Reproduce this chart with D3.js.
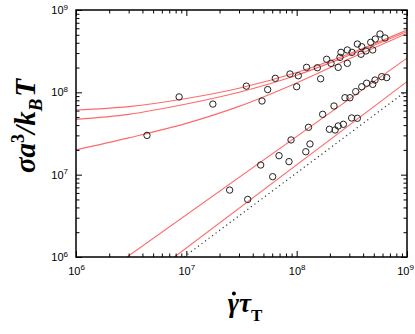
<!DOCTYPE html>
<html>
<head>
<meta charset="utf-8">
<script src="https://cdn.jsdelivr.net/npm/d3@7"></script>
<style>
  html, body { margin: 0; padding: 0; background: #fff; }
  svg { display: block; }
</style>
</head>
<body>
<svg id="chart" width="415" height="334"></svg>
<script>
// ---------- data ----------
const seriesAX = [8.6e6, 3.5e7, 6.4e7, 8.7e7, 1.23e8, 1.87e8, 2.47e8, 2.52e8, 2.88e8, 3.55e8, 4.69e8, 5.16e8, 5.69e8];
const seriesAY = [8.8e7, 1.19e8, 1.48e8, 1.67e8, 2.01e8, 2.52e8, 2.66e8, 3.06e8, 3.27e8, 3.86e8, 4.05e8, 4.44e8, 5.11e8];

const seriesBX = [1.74e7, 5.46e7, 1.035e8, 1.54e8, 2.05e8, 2.38e8, 3.17e8, 3.89e8, 4.25e8, 4.89e8, 6.32e8];
const seriesBY = [7.2e7, 1.08e8, 1.59e8, 1.99e8, 2.25e8, 2.01e8, 3.06e8, 3.58e8, 3.18e8, 3.27e8, 4.57e8];

const seriesCX = [4.4e6, 4.85e7, 1.0e8, 1.65e8, 2.88e8, 3.83e8];
const seriesCY = [3.0e7, 7.85e7, 1.17e8, 1.46e8, 2.25e8, 2.90e8];

const seriesDX = [2.47e7, 4.72e7, 6.92e7, 8.89e7, 1.28e8, 1.72e8, 2.18e8, 2.74e8, 3.04e8, 3.43e8, 3.89e8, 4.31e8, 4.89e8, 5.13e8, 5.90e8, 6.55e8];
const seriesDY = [6.5e6, 1.31e7, 1.70e7, 2.64e7, 3.76e7, 5.41e7, 6.82e7, 8.6e7, 8.6e7, 1.02e8, 1.17e8, 1.29e8, 1.25e8, 1.41e8, 1.55e8, 1.51e8];

const seriesEX = [3.6e7, 6.06e7, 8.52e7, 1.21e8, 1.32e8, 1.98e8, 2.23e8, 2.38e8, 2.65e8, 3.15e8, 3.55e8];
const seriesEY = [5.0e6, 9.45e6, 1.44e7, 1.90e7, 2.36e7, 3.56e7, 3.49e7, 3.90e7, 4.09e7, 4.88e7, 4.84e7];

// fitted curves
const fitX  = [1e6, 3e6, 1e7, 3e7, 1e8, 3e8, 1e9];
const fitA  = [6.1e7, 6.7e7, 8.4e7, 1.12e8, 1.74e8, 2.94e8, 5.7e8];
const fitB  = [4.7e7, 5.4e7, 7.2e7, 1.0e8, 1.61e8, 2.82e8, 5.45e8];
const fitC  = [2.0e7, 2.8e7, 4.2e7, 6.75e7, 1.30e8, 2.55e8, 5.2e8];
const fitDX = [2.9e6, 1e9];
const fitDY = [1e6, 2.6e8];
const fitEX = [7.8e6, 1e9];
const fitEY = [1e6, 1.35e8];
const refX  = [9.5e6, 1e9];
const refY  = [1e6, 1.05e8];

const majorTicks = [1e6, 1e7, 1e8, 1e9];
const tickExponents = ["6", "7", "8", "9"];

// ---------- drawing ----------
const svg = d3.select("#chart");
const L = 76, R = 407, T = 10, B = 257;

const x = d3.scaleLog().domain([1e6, 1e9]).range([L, R]);
const y = d3.scaleLog().domain([1e6, 1e9]).range([B, T]);

const minorTicks = [];
for (let d = 1e6; d < 1e9; d *= 10) for (let k = 2; k <= 9; k++) minorTicks.push(d * k);

svg.append("defs").append("clipPath").attr("id", "clip")
  .append("rect").attr("x", L).attr("y", T).attr("width", R - L).attr("height", B - T);

const plot = svg.append("g").attr("clip-path", "url(#clip)");

const line = d3.line().x(d => x(d[0])).y(d => y(d[1]));
const curve = d3.line().x(d => x(d[0])).y(d => y(d[1])).curve(d3.curveMonotoneX);
const zip = (a, b) => a.map((v, i) => [v, b[i]]);

const red = "#ff6a6a";
[fitA, fitB, fitC].forEach(f => {
  plot.append("path").datum(zip(fitX, f)).attr("d", curve)
    .attr("fill", "none").attr("stroke", red).attr("stroke-width", 1.1);
});
[[fitDX, fitDY], [fitEX, fitEY]].forEach(([a, b]) => {
  plot.append("path").datum(zip(a, b)).attr("d", line)
    .attr("fill", "none").attr("stroke", red).attr("stroke-width", 1.1);
});
plot.append("path").datum(zip(refX, refY)).attr("d", line)
  .attr("fill", "none").attr("stroke", "#333").attr("stroke-width", 1.2)
  .attr("stroke-dasharray", "1.2,3.2");

const allPts = [
  ...zip(seriesAX, seriesAY), ...zip(seriesBX, seriesBY), ...zip(seriesCX, seriesCY),
  ...zip(seriesDX, seriesDY), ...zip(seriesEX, seriesEY)
];
plot.selectAll("circle.pt").data(allPts).enter().append("circle")
  .attr("class", "pt")
  .attr("cx", d => x(d[0])).attr("cy", d => y(d[1])).attr("r", 3.2)
  .attr("fill", "none").attr("stroke", "#222").attr("stroke-width", 1);

// axes
function styleAxis(g) {
  g.select(".domain").remove();
  g.selectAll(".tick line").attr("stroke", "#000").attr("stroke-width", 1);
}
function supLabels(g) {
  g.selectAll(".tick text").each(function(d, i) {
    const t = d3.select(this);
    t.text("10");
    t.append("tspan").attr("font-size", "8px").attr("dy", "-0.55em").text(tickExponents[i]);
  });
}
const fontSans = "'Liberation Sans', Arial, sans-serif";

// bottom
svg.append("g").attr("transform", `translate(0,${B})`)
  .call(d3.axisBottom(x).tickValues(minorTicks).tickSize(-3.5).tickFormat(""))
  .call(styleAxis);
svg.append("g").attr("transform", `translate(0,${B})`)
  .call(d3.axisBottom(x).tickValues(majorTicks).tickSize(-6).tickPadding(10).tickFormat(() => ""))
  .call(styleAxis)
  .call(g => g.selectAll(".tick text").attr("font-family", fontSans).attr("font-size", "11px").attr("fill", "#000"))
  .call(supLabels)
  .call(g => g.selectAll(".tick text").filter((d, i) => i === 3).attr("x", -2));
// top
svg.append("g").attr("transform", `translate(0,${T})`)
  .call(d3.axisTop(x).tickValues(minorTicks).tickSize(-3.5).tickFormat("")).call(styleAxis);
svg.append("g").attr("transform", `translate(0,${T})`)
  .call(d3.axisTop(x).tickValues(majorTicks).tickSize(-6).tickFormat("")).call(styleAxis);
// left
svg.append("g").attr("transform", `translate(${L},0)`)
  .call(d3.axisLeft(y).tickValues(minorTicks).tickSize(-3.5).tickFormat("")).call(styleAxis);
svg.append("g").attr("transform", `translate(${L},0)`)
  .call(d3.axisLeft(y).tickValues(majorTicks).tickSize(-6).tickPadding(8).tickFormat(() => ""))
  .call(styleAxis)
  .call(g => g.selectAll(".tick text").attr("font-family", fontSans).attr("font-size", "11px").attr("fill", "#000"))
  .call(supLabels);
// right
svg.append("g").attr("transform", `translate(${R},0)`)
  .call(d3.axisRight(y).tickValues(minorTicks).tickSize(-3.5).tickFormat("")).call(styleAxis);
svg.append("g").attr("transform", `translate(${R},0)`)
  .call(d3.axisRight(y).tickValues(majorTicks).tickSize(-6).tickFormat("")).call(styleAxis);

// frame
svg.append("rect").attr("x", L).attr("y", T).attr("width", R - L).attr("height", B - T)
  .attr("fill", "none").attr("stroke", "#000").attr("stroke-width", 1.5);

// titles
const serif = "'Liberation Serif', 'Times New Roman', serif";
const yt = svg.append("text")
  .attr("transform", "translate(35,126) rotate(-90)")
  .attr("text-anchor", "middle")
  .attr("font-family", serif).attr("font-weight", "bold").attr("font-style", "italic")
  .attr("font-size", "29px").attr("fill", "#000");
yt.append("tspan").text("σa");
yt.append("tspan").attr("font-size", "18px").attr("font-style", "normal").attr("dy", "-11").text("3");
yt.append("tspan").attr("dy", "11").text("/k");
yt.append("tspan").attr("font-size", "19px").attr("dy", "7").text("B");
yt.append("tspan").attr("dy", "-7").attr("dx", "2").text("T");

const xt = svg.append("text")
  .attr("x", 245).attr("y", 312)
  .attr("text-anchor", "middle")
  .attr("font-family", serif).attr("font-weight", "bold").attr("font-style", "italic")
  .attr("font-size", "27px").attr("fill", "#000");
xt.append("tspan").text("γτ");
xt.append("tspan").attr("font-size", "17px").attr("font-style", "normal").attr("dy", "9").text("T");
// overdot on gamma (time derivative)
const gBox = xt.node().getExtentOfChar(0);
svg.append("circle")
  .attr("cx", gBox.x + gBox.width * 0.55).attr("cy", 293.5).attr("r", 2)
  .attr("fill", "#000");
</script>
</body>
</html>
